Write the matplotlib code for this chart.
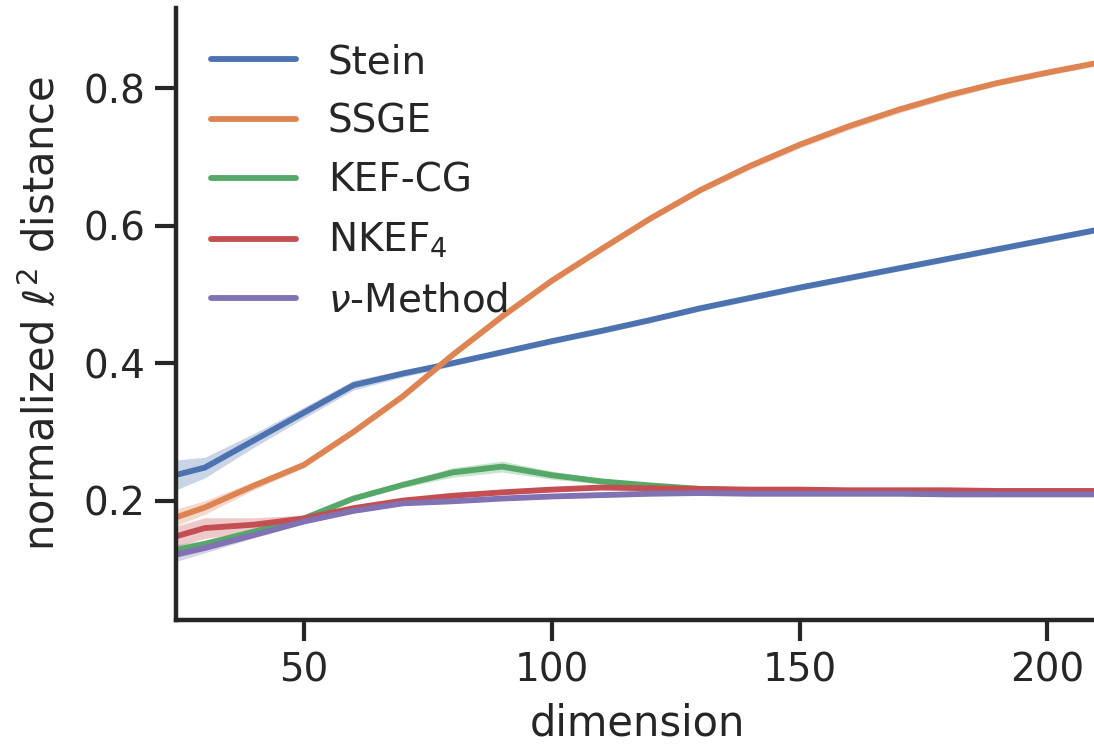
import matplotlib
matplotlib.use("Agg")
import matplotlib.pyplot as plt
import seaborn as sns
import numpy as np

sns.set_theme(style="ticks", palette="deep")
plt.rcParams['font.family'] = ['DejaVu Sans']

dims = [24, 30, 40, 50, 60, 70, 80, 90, 100, 110, 120, 130, 140, 150, 160, 170, 180, 190, 200, 210]

stein = [0.237, 0.248, 0.288, 0.328, 0.368, 0.385, 0.400, 0.416, 0.432, 0.447, 0.463, 0.480,
         0.495, 0.510, 0.524, 0.538, 0.552, 0.566, 0.580, 0.594]
stein_ci = [0.022, 0.015, 0.010, 0.008, 0.007, 0.005, 0.004, 0.004, 0.004, 0.004, 0.004, 0.004,
            0.004, 0.004, 0.004, 0.004, 0.004, 0.004, 0.004, 0.004]

ssge = [0.175, 0.190, 0.222, 0.252, 0.300, 0.352, 0.412, 0.468, 0.520, 0.566, 0.611, 0.652,
        0.687, 0.718, 0.745, 0.769, 0.790, 0.808, 0.823, 0.837]
ssge_ci = [0.012, 0.010, 0.006, 0.004, 0.004, 0.004, 0.004, 0.004, 0.004, 0.004, 0.004, 0.004,
           0.005, 0.005, 0.005, 0.005, 0.005, 0.004, 0.004, 0.004]

kef = [0.128, 0.137, 0.155, 0.174, 0.203, 0.223, 0.241, 0.2495, 0.237, 0.228, 0.222, 0.217,
       0.215, 0.214, 0.214, 0.213, 0.213, 0.213, 0.213, 0.213]
kef_ci = [0.008, 0.005, 0.003, 0.003, 0.003, 0.004, 0.007, 0.008, 0.006, 0.004, 0.003, 0.003,
          0.003, 0.003, 0.003, 0.003, 0.003, 0.003, 0.003, 0.003]

nkef = [0.1475, 0.160, 0.165, 0.174, 0.189, 0.200, 0.207, 0.212, 0.216, 0.219, 0.218, 0.217,
        0.216, 0.216, 0.215, 0.215, 0.215, 0.214, 0.214, 0.214]
nkef_ci = [0.015, 0.015, 0.010, 0.005, 0.003, 0.003, 0.003, 0.003, 0.003, 0.003, 0.003, 0.003,
           0.003, 0.003, 0.003, 0.003, 0.003, 0.003, 0.003, 0.003]

nu = [0.121, 0.131, 0.150, 0.1695, 0.185, 0.196, 0.199, 0.203, 0.206, 0.208, 0.210, 0.211,
      0.210, 0.210, 0.210, 0.210, 0.209, 0.209, 0.209, 0.209]
nu_ci = [0.010, 0.007, 0.004, 0.003, 0.003, 0.003, 0.003, 0.003, 0.003, 0.003, 0.003, 0.003,
         0.003, 0.003, 0.003, 0.003, 0.003, 0.003, 0.003, 0.003]

labels = ["Stein", "SSGE", "KEF-CG", r"NKEF$_4$", r"$\nu$-Method"]
series = [stein, ssge, kef, nkef, nu]
cis = [stein_ci, ssge_ci, kef_ci, nkef_ci, nu_ci]
colors = sns.color_palette("deep")

fig = plt.figure(figsize=(10.94, 7.48), dpi=100)
ax = fig.add_axes([176 / 1094, 1 - 620 / 748, 1.005 - 176 / 1094, (620 - 8) / 748])

x = np.array(dims)
for i, (lab, y, c) in enumerate(zip(labels, series, cis)):
    y = np.array(y)
    c = np.array(c)
    ax.fill_between(x, y - c, y + c, color=colors[i], alpha=0.3, linewidth=0)
    ax.plot(x, y, color=colors[i], lw=4.2, label=lab, solid_capstyle='round')

ax.set_xlim(24.2, 210.5)
ax.set_ylim(0.0262, 0.917)
ax.set_xticks([50, 100, 150, 200])
ax.set_yticks([0.2, 0.4, 0.6, 0.8])

for s in ["top", "right"]:
    ax.spines[s].set_visible(False)
for s in ["left", "bottom"]:
    ax.spines[s].set_linewidth(3.2)
    ax.spines[s].set_color("#262626")

ax.tick_params(axis='both', which='major', labelsize=28, length=15, width=3.0,
               color="#262626", labelcolor="#262626")
ax.tick_params(axis='x', pad=8)
ax.tick_params(axis='y', pad=7)
ax.set_xlabel("dimension", fontsize=30, color="#262626", labelpad=9)
ax.set_ylabel(r"normalized $\ell^2$ distance", fontsize=30, color="#262626", labelpad=14)

leg = ax.legend(loc="upper left", frameon=False, fontsize=28, handlelength=2.19,
                handletextpad=0.81, labelspacing=0.55, borderaxespad=0.5)
for t in leg.get_texts():
    t.set_color("#262626")

fig.savefig("out.png", dpi=100)
